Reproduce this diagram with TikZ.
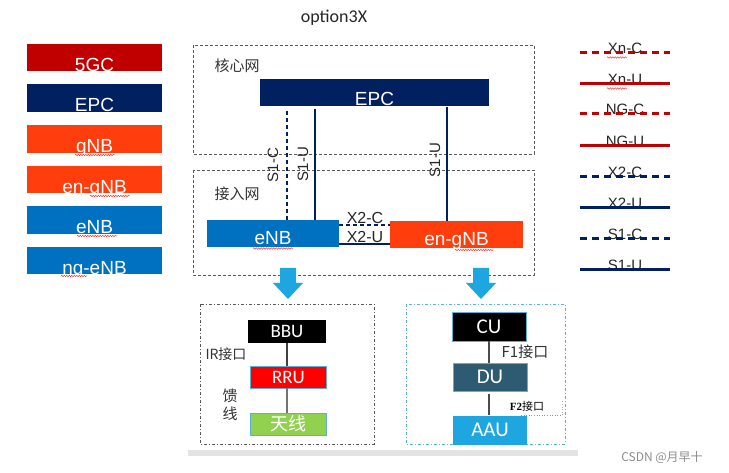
\documentclass[tikz,border=0pt]{standalone}
\usepackage{fontspec}
\setmainfont{Liberation Sans}
\newfontfamily\cjk{Noto Sans CJK SC}
\newfontfamily\carl{Carlito}
\newfontfamily\serf{Liberation Serif}
\usetikzlibrary{decorations.pathmorphing}
\definecolor{corered}{HTML}{C00000}
\definecolor{epcblue}{HTML}{002060}
\definecolor{nrorange}{HTML}{FF3D0D}
\definecolor{lteblue}{HTML}{0070C0}
\definecolor{arrblue}{HTML}{1DA6E0}
\definecolor{dugray}{HTML}{2F5B72}
\definecolor{antgreen}{HTML}{92D050}
\definecolor{edgecyan}{HTML}{5BB0D8}

\begin{document}
\begin{tikzpicture}[x=1pt,y=-1pt,
  legbox/.style={minimum width=135pt,minimum height=27pt,inner sep=0pt,text=white,font=\fontsize{19}{19}\selectfont},
  sunk/.style={text height=#1,text depth=0pt},
  netbox/.style={draw=black!65,line width=0.8pt,dash pattern=on 3pt off 2pt},
  unitbox/.style={line width=0.8pt,dash pattern=on 3pt off 2pt on 1pt off 2pt},
  unit/.style={minimum width=76pt,minimum height=22pt,inner sep=0pt,text=white,font=\carl\fontsize{19}{19}\selectfont},
  link/.style={epcblue,line width=2.2pt},
  linkdash/.style={epcblue,line width=2.2pt,dash pattern=on 4pt off 3pt},
  lbl/.style={text=black!85,font=\fontsize{15}{15}\selectfont,inner sep=0pt},
  cjklbl/.style={text=black!80,font=\cjk\fontsize{14}{14}\selectfont,inner sep=0pt},
  legline/.style={line width=3pt},
  legdash/.style={dash pattern=on 7pt off 5pt},
  legsolid/.style={},
  spell/.style={red!80,line width=0.5pt,decorate,decoration={snake,amplitude=0.7pt,segment length=2.5pt}}]
  \useasboundingbox (0,0) rectangle (729,473);

  %%%%% title %%%%%
  \node[text=black!85,font=\carl\fontsize{18}{18}\selectfont] (title) at (334,18) {option3X};

  %%%%% left legend %%%%%
  \node[legbox,sunk=27.6pt,fill=corered] (l5gc) at (94.5,57.5) {5GC};
  \node[legbox,sunk=27.6pt,fill=epcblue] (lepc) at (94.5,98) {EPC};
  \node[legbox,sunk=27.6pt,fill=nrorange] (lgnb) at (94.5,139) {gNB};
  \node[legbox,sunk=27.6pt,fill=nrorange] (lengnb) at (94.5,179.5) {en-gNB};
  \node[legbox,sunk=27.6pt,fill=lteblue] (lenb) at (94.5,220) {eNB};
  \node[legbox,sunk=27.6pt,fill=lteblue] (lngenb) at (94.5,260.5) {ng-eNB};
  \draw[spell] (75,155) -- (115,155);
  \draw[spell] (90,196) -- (130,196);
  \draw[spell] (77,236) -- (117,236);
  \draw[spell] (61,276) -- (87,276);

  %%%%% core and access network %%%%%
  \draw[netbox] (193,45) rectangle (534,154);
  \draw[netbox] (193,170) rectangle (534,275);
  \node[cjklbl,font=\cjk\fontsize{15}{15}\selectfont] (core) at (237,66) {核心网};
  \node[cjklbl,font=\cjk\fontsize{15}{15}\selectfont] (access) at (237,194) {接入网};

  \node[legbox,sunk=26.6pt,minimum width=229pt,fill=epcblue] (epc) at (374.5,92.5) {EPC};
  \node[legbox,sunk=21.6pt,minimum width=132pt,fill=lteblue] (enb) at (273,233.5) {eNB};
  \node[legbox,sunk=21.6pt,minimum width=133pt,fill=nrorange] (engnb) at (456.5,234.5) {en-gNB};
  \draw[spell] (253,248.5) -- (293,248.5);
  \draw[spell] (455,250) -- (493,250);

  \draw[linkdash,shorten >=4pt] ([xshift=14pt]enb.north) -- ([xshift=14pt]enb.north |- epc.south);
  \draw[link,shorten >=3pt] ([xshift=42pt]enb.north) -- ([xshift=42pt]enb.north |- epc.south);
  \draw[link,shorten >=1pt] ([xshift=-9.5pt]engnb.north) -- ([xshift=-9.5pt]engnb.north |- epc.south);
  \node[lbl,rotate=90] (s1c) at (273,165) {S1-C};
  \node[lbl,rotate=90] (s1u) at (303,164) {S1-U};
  \node[lbl,rotate=90] (s1ug) at (435,160) {S1-U};

  \draw[linkdash] ([yshift=8.5pt]enb.east) -- ([yshift=8.5pt]enb.east -| engnb.west);
  \draw[link] ([yshift=-10.5pt]enb.east) -- ([yshift=-10.5pt]enb.east -| engnb.west);
  \node[lbl,font=\fontsize{16}{16}\selectfont] (x2c) at (365,218) {X2-C};
  \node[lbl,font=\fontsize{16}{16}\selectfont] (x2u) at (365,236.5) {X2-U};

  %%%%% arrows %%%%%
  \foreach \ax in {288,481}
    \fill[arrblue] (\ax-8,268) -- (\ax+8,268) -- (\ax+8,283) -- (\ax+15,283) -- (\ax,299) -- (\ax-15,283) -- (\ax-8,283) -- cycle;

  %%%%% BBU side %%%%%
  \draw[unitbox,draw=black!65] (200,304) rectangle (374,444);
  \node[unit,minimum width=78pt,minimum height=23pt,fill=black] (bbu) at (287,331.5) {BBU};
  \node[unit,draw=edgecyan,line width=0.6pt,fill=red] (rru) at (288.5,377) {RRU};
  \node[unit,draw=edgecyan,line width=0.6pt,fill=antgreen,font=\cjk\fontsize{18}{18}\selectfont] (ant) at (288.5,424) {天线};
  \draw[black!75,line width=1.2pt] (bbu.south -| 287,0) -- (rru.north -| 287,0);
  \draw[black!55,line width=1.2pt] (rru.south -| 287,0) -- (ant.north -| 287,0);
  \node[cjklbl] (ir) at (226,354) {IR接口};
  \node[cjklbl,font=\cjk\fontsize{15}{15}\selectfont] (feed1) at (230,396) {馈};
  \node[cjklbl,font=\cjk\fontsize{15}{15}\selectfont] (feed2) at (230,414) {线};

  %%%%% CU side %%%%%
  \draw[unitbox,draw=edgecyan] (406,304) rectangle (565,444);
  \node[unit,minimum width=74pt,minimum height=29pt,draw=edgecyan,line width=0.6pt,fill=black,font=\carl\fontsize{21}{21}\selectfont] (cu) at (489,326.5) {CU};
  \node[unit,minimum width=74pt,minimum height=28pt,draw=edgecyan,line width=0.6pt,fill=dugray,font=\carl\fontsize{21}{21}\selectfont] (du) at (490,377) {DU};
  \node[unit,minimum width=74pt,minimum height=29pt,fill=arrblue,font=\carl\fontsize{21}{21}\selectfont] (aau) at (490,430) {AAU};
  \draw[black!70,line width=1.5pt] (cu.south -| 489,0) -- (du.north -| 489,0);
  \draw[black!70,line width=1.5pt,shorten <=3pt] (du.south -| 489,0) -- (aau.north -| 489,0);
  \node[cjklbl,font=\cjk\fontsize{15}{15}\selectfont] (f1) at (525,352) {F1接口};
  \node[inner sep=0pt,font=\fontsize{11}{11}\selectfont] (f2) at (527,406) {{\serf\bfseries F2}{\cjk 接口}};
  \coordinate (f2a) at (521,415);
  \coordinate (f2b) at (562,415);
  \coordinate (f2c) at (562,400);
  \draw[red!60,dotted,line width=0.6pt] (f2a) -- (f2b);
  \draw[black!30,dotted,line width=0.6pt] (f2b) -- (f2c);

  %%%%% bottom bar %%%%%
  \fill[black!11] (188,450) rectangle (578,456);

  %%%%% right legend %%%%%
  \foreach \lab/\yy/\col/\pat [count=\i] in {Xn-C/52.5/corered/legdash,Xn-U/83.5/corered/legsolid,NG-C/114/corered/legdash,NG-U/145.5/corered/legsolid,X2-C/176.5/epcblue/legdash,X2-U/207.5/epcblue/legsolid,S1-C/239/epcblue/legdash,S1-U/269.5/epcblue/legsolid}
  {
    \coordinate (la\i) at (580,\yy);
    \coordinate (lb\i) at (670,\yy);
    \node[lbl] (lt\i) at (625,\yy-4.5) {\lab};
    \draw[legline,\col,\pat] (la\i) -- (lb\i);
  }
  \draw[spell] (607,57.5) -- (627,57.5);
  \draw[spell] (607,88.5) -- (627,88.5);

  %%%%% watermark %%%%%
  \node[text=black!45,font=\cjk\fontsize{12}{12}\selectfont] (mark) at (662,458) {CSDN @月早十};
\end{tikzpicture}
\end{document}
